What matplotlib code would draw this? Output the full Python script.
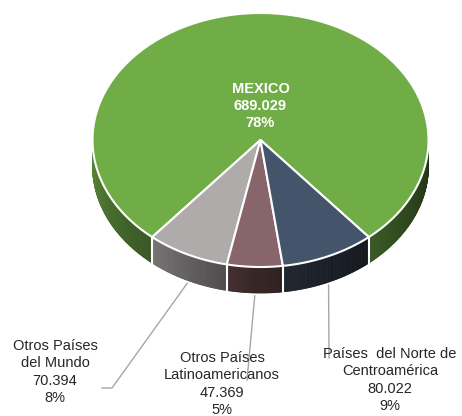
import numpy as np
import matplotlib.pyplot as plt
from matplotlib.patches import Polygon
from matplotlib.colors import to_rgb

# datos
categories = ["MEXICO", "Otros Países\ndel Mundo", "Otros Países\nLatinoamericanos",
              "Países  del Norte de\nCentroamérica"]
values = [689029, 70394, 47369, 80022]

top_colors = ["#70AD47", "#AFABAB", "#87656A", "#44546A"]
side_colors = ["#5B8C3B", "#8A8787", "#563B3C", "#2C3441"]

W, H = 462, 416
CX, CY, A, B = 260.5, 140.0, 168.0, 127.0
DEPTH = 26.0


def pt(t_deg, dz=0.0):
    t = np.radians(t_deg)
    return CX + A * np.cos(t), CY - B * np.sin(t) + dz


def shade(color, m):
    r, g, b = to_rgb(color)
    return (r * m, g * m, b * m)


fig = plt.figure(figsize=(W / 100, H / 100), dpi=100)
ax = fig.add_axes([0, 0, 1, 1])
ax.set_xlim(0, W)
ax.set_ylim(H, 0)
ax.axis("off")

total = sum(values)
fracs = [v / total for v in values]
start = 90 - fracs[0] * 180
bounds = [start]
for f in fracs:
    bounds.append(bounds[-1] + f * 360)

# caras laterales (solo la mitad frontal)
for i, col in enumerate(side_colors):
    t0, t1 = bounds[i], bounds[i + 1]
    ts = np.linspace(t0, t1, max(int((t1 - t0) * 2), 2))
    segs = []
    cur = []
    for a0, a1 in zip(ts[:-1], ts[1:]):
        mid = ((a0 + a1) / 2) % 360
        if 180 < mid < 360:
            cur.append((a0, a1))
        elif cur:
            segs.append(cur)
            cur = []
    if cur:
        segs.append(cur)
    for seg in segs:
        n = len(seg)
        for k, (a0, a1) in enumerate(seg):
            g = 1.0 - 0.5 * (((a0 + a1) / 2 % 360) - 180) / 180
            loc = 1.0 - 0.28 * k / max(n - 1, 1)
            c = shade(col, min(g * loc, 1.0))
            poly = [pt(a0), pt(a1), pt(a1, DEPTH), pt(a0, DEPTH)]
            ax.add_patch(Polygon(poly, closed=True, facecolor=c, edgecolor=c, lw=0.6))

# bordes verticales blancos entre porciones
for t in bounds[:-1]:
    if 180 < t % 360 < 360:
        x0, y0 = pt(t)
        ax.plot([x0, x0], [y0, y0 + DEPTH], color="white", lw=1.5)

# caras superiores
for i, col in enumerate(top_colors):
    ts = np.linspace(bounds[i], bounds[i + 1], 200)
    poly = [(CX, CY)] + [pt(t) for t in ts]
    ax.add_patch(Polygon(poly, closed=True, facecolor=col, edgecolor="white", lw=1.5,
                         joinstyle="round"))

font = ["Liberation Sans", "DejaVu Sans"]


def fmt(v):
    return f"{v:,}".replace(",", ".")


# etiqueta de MEXICO
ax.text(CX, 106, f"{categories[0]}\n{fmt(values[0])}\n{fracs[0]:.0%}", color="white",
        fontsize=10.5, fontweight="bold", ha="center", va="center", family=font,
        linespacing=1.3)

# etiquetas externas con líneas guía
label_pos = [None, (55, 372), (222, 384), (390, 380)]
line_ends = [None, [(112, 388), (102, 388)], [(247, 380)], [(329, 358)]]
for i in range(1, 4):
    mid = (bounds[i] + bounds[i + 1]) / 2
    sx, sy = pt(mid, DEPTH + 3)
    xs = [sx] + [p[0] for p in line_ends[i]]
    ys = [sy] + [p[1] for p in line_ends[i]]
    ax.plot(xs, ys, color="#A6A6A6", lw=1)
    ax.text(label_pos[i][0], label_pos[i][1],
            f"{categories[i]}\n{fmt(values[i])}\n{fracs[i]:.0%}",
            color="#262626", fontsize=10.5, ha="center", va="center", family=font,
            linespacing=1.3)

fig.savefig("out.png", dpi=100)
plt.close(fig)
